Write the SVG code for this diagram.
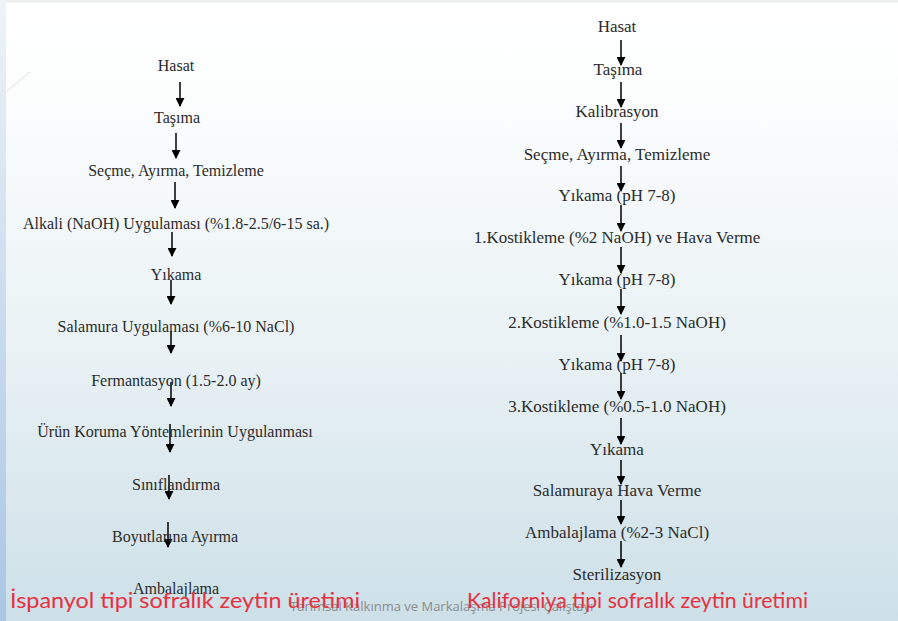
<svg xmlns="http://www.w3.org/2000/svg" width="898" height="621" viewBox="0 0 898 621">
  <defs>
    <linearGradient id="bg" x1="0" y1="0" x2="0" y2="1">
      <stop offset="0" stop-color="#ffffff"/>
      <stop offset="0.12" stop-color="#fdfefe"/>
      <stop offset="0.55" stop-color="#eaf2f5"/>
      <stop offset="1" stop-color="#cde0e8"/>
    </linearGradient>
    <linearGradient id="edge" x1="0" y1="0" x2="0" y2="1">
      <stop offset="0" stop-color="#eef3f8"/>
      <stop offset="0.5" stop-color="#c9dcee"/>
      <stop offset="1" stop-color="#a9c6e4"/>
    </linearGradient>
    <marker id="head" viewBox="0 0 10 10" refX="9" refY="5" markerWidth="9" markerHeight="9" markerUnits="userSpaceOnUse" orient="auto">
      <path d="M0,0 L10,5 L0,10 Z" fill="#000"/>
    </marker>
    <style>
      .step { font-family: "Liberation Serif", "Times New Roman", serif; fill: #2b2b2b; text-anchor: middle; }
      .l { font-size: 16px; }
      .r { font-size: 17px; }
      .arr { stroke: #000; stroke-width: 1.5; fill: none; marker-end: url(#head); }
      .title { font-family: "Lato", "Noto Sans", sans-serif; font-size: 22px; fill: #e8303f; }
      .foot { font-family: "Open Sans", "Liberation Sans", sans-serif; font-size: 13px; fill: #8c8c8c; }
    </style>
  </defs>

  <!-- slide background -->
  <rect x="0" y="0" width="898" height="621" fill="url(#bg)"/>
  <rect x="0" y="0" width="898" height="3" fill="#eef0f1"/>
  <rect x="0" y="0" width="6" height="621" fill="url(#edge)"/>
  <line x1="7" y1="91" x2="30" y2="72" stroke="#d8dde0" stroke-width="1"/>

  <!-- footer -->
  <text class="foot" x="290" y="611">Tarımsal Kalkınma ve Markalaşma Projesi Çalıştayı</text>

  <!-- connectors -->
  <g id="connectors">
    <line class="arr" x1="180" y1="82" x2="180" y2="106"/>
    <line class="arr" x1="176" y1="133" x2="176" y2="158"/>
    <line class="arr" x1="175" y1="182" x2="175" y2="208"/>
    <line class="arr" x1="172" y1="232" x2="172" y2="256"/>
    <line class="arr" x1="171" y1="280" x2="171" y2="304"/>
    <line class="arr" x1="171" y1="331" x2="171" y2="353"/>
    <line class="arr" x1="171" y1="382" x2="171" y2="406"/>
    <line class="arr" x1="170" y1="424" x2="170" y2="452"/>
    <line class="arr" x1="169" y1="475" x2="169" y2="499"/>
    <line class="arr" x1="168" y1="522" x2="168" y2="547"/>

    <line class="arr" x1="621" y1="40" x2="621" y2="65"/>
    <line class="arr" x1="621" y1="82" x2="621" y2="107"/>
    <line class="arr" x1="621" y1="123" x2="621" y2="148"/>
    <line class="arr" x1="621" y1="166" x2="621" y2="191"/>
    <line class="arr" x1="621" y1="205" x2="621" y2="231"/>
    <line class="arr" x1="621" y1="247" x2="621" y2="273"/>
    <line class="arr" x1="621" y1="289" x2="621" y2="314"/>
    <line class="arr" x1="621" y1="335" x2="621" y2="361"/>
    <line class="arr" x1="621" y1="373" x2="621" y2="399"/>
    <line class="arr" x1="621" y1="418" x2="621" y2="444"/>
    <line class="arr" x1="621" y1="460" x2="621" y2="484"/>
    <line class="arr" x1="621" y1="500" x2="621" y2="524"/>
    <line class="arr" x1="621" y1="541" x2="621" y2="567"/>
  </g>

  <!-- İspanyol tipi steps -->
  <g id="sp-hasat"><text class="step l" x="176" y="71">Hasat</text></g>
  <g id="sp-tasima"><text class="step l" x="177" y="123">Taşıma</text></g>
  <g id="sp-secme"><text class="step l" x="176" y="176">Seçme, Ayırma, Temizleme</text></g>
  <g id="sp-alkali"><text class="step l" x="176" y="229">Alkali (NaOH) Uygulaması (%1.8-2.5/6-15 sa.)</text></g>
  <g id="sp-yikama"><text class="step l" x="176" y="280">Yıkama</text></g>
  <g id="sp-salamura"><text class="step l" x="176" y="332">Salamura Uygulaması (%6-10 NaCl)</text></g>
  <g id="sp-ferm"><text class="step l" x="176" y="386">Fermantasyon (1.5-2.0 ay)</text></g>
  <g id="sp-koruma"><text class="step l" x="175" y="437">Ürün Koruma Yöntemlerinin Uygulanması</text></g>
  <g id="sp-sinif"><text class="step l" x="176" y="490">Sınıflandırma</text></g>
  <g id="sp-boyut"><text class="step l" x="175" y="542">Boyutlarına Ayırma</text></g>
  <g id="sp-ambalaj"><text class="step l" x="176" y="594">Ambalajlama</text></g>

  <!-- Kaliforniya tipi steps -->
  <g id="ca-hasat"><text class="step r" x="617" y="32">Hasat</text></g>
  <g id="ca-tasima"><text class="step r" x="618" y="75">Taşıma</text></g>
  <g id="ca-kalib"><text class="step r" x="617" y="117">Kalibrasyon</text></g>
  <g id="ca-secme"><text class="step r" x="617" y="160">Seçme, Ayırma, Temizleme</text></g>
  <g id="ca-yikama1"><text class="step r" x="617" y="201">Yıkama (pH 7-8)</text></g>
  <g id="ca-kost1"><text class="step r" x="617" y="243">1.Kostikleme (%2 NaOH) ve Hava Verme</text></g>
  <g id="ca-yikama2"><text class="step r" x="617" y="285">Yıkama (pH 7-8)</text></g>
  <g id="ca-kost2"><text class="step r" x="617" y="328">2.Kostikleme (%1.0-1.5 NaOH)</text></g>
  <g id="ca-yikama3"><text class="step r" x="617" y="370">Yıkama (pH 7-8)</text></g>
  <g id="ca-kost3"><text class="step r" x="617" y="412">3.Kostikleme (%0.5-1.0 NaOH)</text></g>
  <g id="ca-yikama4"><text class="step r" x="617" y="455">Yıkama</text></g>
  <g id="ca-havaver"><text class="step r" x="617" y="496">Salamuraya Hava Verme</text></g>
  <g id="ca-ambalaj"><text class="step r" x="617" y="538">Ambalajlama (%2-3 NaCl)</text></g>
  <g id="ca-steril"><text class="step r" x="617" y="580">Sterilizasyon</text></g>

  <!-- titles -->
  <text class="title" x="10" y="608" textLength="350" lengthAdjust="spacingAndGlyphs">İspanyol tipi sofralık zeytin üretimi</text>
  <text class="title" x="467" y="608" textLength="341" lengthAdjust="spacingAndGlyphs">Kaliforniya tipi sofralık zeytin üretimi</text>
</svg>
